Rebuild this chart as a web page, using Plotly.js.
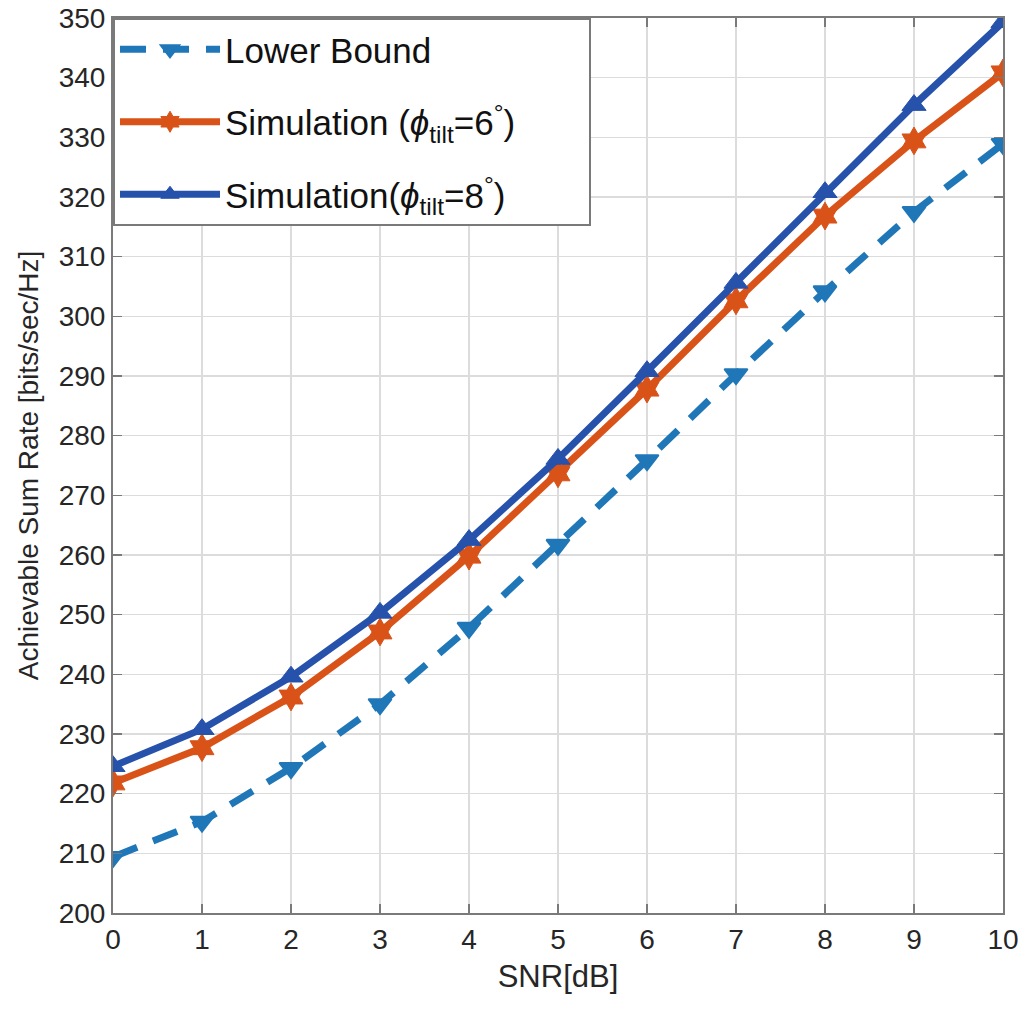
<!DOCTYPE html>
<html>
<head>
<meta charset="utf-8">
<script src="https://cdn.plot.ly/plotly-3.0.1.min.js"></script>
<style>body{margin:0;padding:0;background:#fff}#chart{width:1027px;height:1010px}</style>
</head>
<body>
<div id="chart"></div>
<script>
const snr = [0,1,2,3,4,5,6,7,8,9,10];
const lowerBound = [209.4,215.3,224.3,235.0,247.8,261.7,275.9,290.3,304.2,317.5,328.9];
const sim6 = [221.8,227.7,236.2,247.1,259.8,273.6,287.8,302.6,316.8,329.4,340.8];
const sim8 = [224.6,230.8,239.6,250.3,262.5,276.1,290.8,305.6,320.8,335.4,349.3];
const names = ['Lower Bound', 'Simulation (<i>ϕ</i><sub>tilt</sub>=6<sup>°</sup>)', 'Simulation(<i>ϕ</i><sub>tilt</sub>=8<sup>°</sup>)'];
const xTicks = [0,1,2,3,4,5,6,7,8,9,10];
const yTicks = [200,210,220,230,240,250,260,270,280,290,300,310,320,330,340,350];

const FONT = 'Liberation Sans, Arial, sans-serif';
const PAD = '\u00a0\u00a0\u00a0\u00a0\u00a0\u00a0\u00a0';
const traces = [
  {x: snr, y: lowerBound, name: names[0], legendgroup: 'a', mode: 'lines+markers', type: 'scatter',
   line: {color: '#1f77b8', width: 7, dash: '26px,17px'},
   marker: {symbol: 'triangle-down', size: 20, color: '#1f77b8', line: {color: '#1f77b8', width: 2}}},
  {x: snr, y: sim6, name: names[1] + PAD, legendgroup: 'b', mode: 'lines+markers', type: 'scatter',
   line: {color: '#d95319', width: 7},
   marker: {symbol: 'hexagram', size: 21, color: '#d95319', line: {color: '#d95319', width: 1}}},
  {x: snr, y: sim8, name: names[2], legendgroup: 'c', mode: 'lines+markers', type: 'scatter',
   line: {color: '#2652ab', width: 7},
   marker: {symbol: 'triangle-up', size: 21, color: '#2652ab', line: {color: '#2652ab', width: 1}}}
];

const axisCommon = {
  showgrid: true, gridcolor: '#dcdcdc', gridwidth: 1.5,
  showline: true, linecolor: '#7a7a7a', linewidth: 2, mirror: 'allticks',
  ticks: 'inside', ticklen: 9, tickcolor: '#7a7a7a', tickwidth: 1.5,
  zeroline: false,
  tickfont: {family: FONT, size: 28, color: '#262626'}
};

const layout = {
  width: 1027, height: 1010,
  margin: {l: 113, r: 24, t: 18, b: 97},
  paper_bgcolor: '#fff', plot_bgcolor: '#fff',
  showlegend: true,
  xaxis: Object.assign({}, axisCommon, {
    range: [0, 10], tickvals: xTicks, ticktext: xTicks.map(String),
    title: {text: 'SNR[dB]', font: {family: FONT, size: 31, color: '#262626'}, standoff: 12}
  }),
  yaxis: Object.assign({}, axisCommon, {
    range: [200, 350], tickvals: yTicks, ticktext: yTicks.map(String),
    title: {text: 'Achievable Sum Rate [bits/sec/Hz]', font: {family: FONT, size: 28, color: '#262626'}, standoff: 12}
  }),
  legend: {
    x: 0, y: 1, xanchor: 'left', yanchor: 'top',
    bgcolor: '#ffffff', bordercolor: '#7a7a7a', borderwidth: 2,
    font: {family: FONT, size: 35, color: '#111'},
    itemwidth: 100, tracegroupgap: 24
  }
};

Plotly.newPlot('chart', traces, layout, {displayModeBar: false, staticPlot: true});
</script>
</body>
</html>
